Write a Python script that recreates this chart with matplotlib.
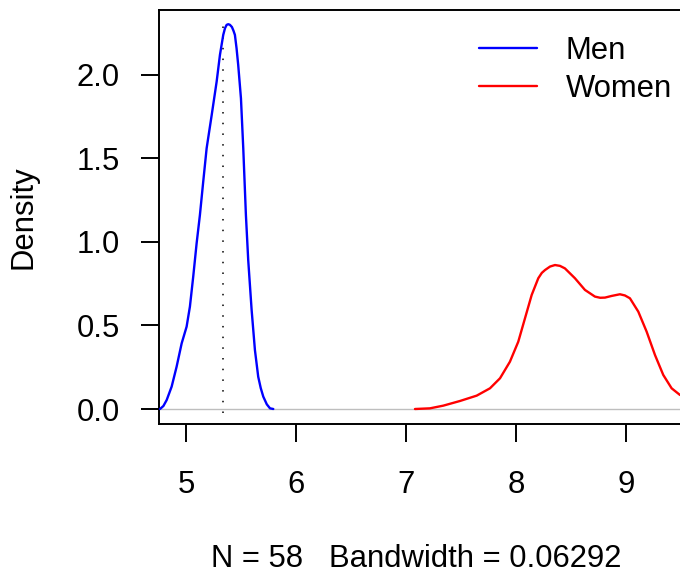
import numpy as np
import matplotlib.pyplot as plt

plt.rcParams['font.family'] = ['Liberation Sans', 'DejaVu Sans']

# density estimate for men
men_x = [4.764, 4.795, 4.825, 4.870, 4.915, 4.961, 5.006, 5.036, 5.066, 5.097,
         5.127, 5.157, 5.188, 5.234, 5.279, 5.309, 5.339, 5.355, 5.370, 5.385,
         5.400, 5.418, 5.432, 5.445, 5.460, 5.475, 5.500, 5.521, 5.545, 5.566,
         5.597, 5.627, 5.657, 5.680, 5.703, 5.735, 5.764, 5.794]
men_y = [0.000, 0.018, 0.054, 0.134, 0.253, 0.393, 0.493, 0.613, 0.792, 0.992,
         1.162, 1.361, 1.561, 1.760, 1.960, 2.120, 2.240, 2.280, 2.300, 2.304,
         2.300, 2.287, 2.265, 2.240, 2.160, 2.060, 1.860, 1.561, 1.162, 0.892,
         0.593, 0.353, 0.193, 0.125, 0.074, 0.028, 0.004, 0.000]

# density estimate for women
women_x = [7.082, 7.218, 7.339, 7.491, 7.643, 7.764, 7.855, 7.945, 8.021, 8.082,
           8.143, 8.203, 8.235, 8.264, 8.310, 8.355, 8.400, 8.445, 8.536, 8.627,
           8.718, 8.765, 8.809, 8.870, 8.945, 8.990, 9.036, 9.112, 9.188, 9.264,
           9.339, 9.415, 9.491]
women_y = [0.000, 0.004, 0.020, 0.048, 0.080, 0.124, 0.184, 0.283, 0.403, 0.543,
           0.683, 0.783, 0.815, 0.832, 0.853, 0.862, 0.857, 0.842, 0.783, 0.713,
           0.673, 0.666, 0.667, 0.677, 0.687, 0.680, 0.663, 0.583, 0.463, 0.323,
           0.204, 0.124, 0.084]

men_mean = 5.336
xticks = [5, 6, 7, 8, 9]
yticks = [0.0, 0.5, 1.0, 1.5, 2.0]

fig = plt.figure(figsize=(6.8, 5.76), dpi=100)
ax = fig.add_axes([159/680, 152/576, 541/680, 414/576])

ax.axhline(0, color='#bebebe', lw=1.0, zorder=1)
ax.plot(men_x, men_y, color='blue', lw=1.7, label='Men', zorder=3,
        solid_joinstyle='round', solid_capstyle='round')
ax.plot(women_x, women_y, color='red', lw=1.7, label='Women', zorder=3,
        solid_joinstyle='round', solid_capstyle='round')
ax.vlines(men_mean, -0.024, 2.341, colors='black', lw=1.1,
          linestyles=(0, (1, 6)), zorder=2)

ax.set_xlim(4.755, 9.673)
ax.set_ylim(-0.0898, 2.389)
ax.set_xticks(xticks)
ax.set_xticklabels([str(t) for t in xticks])
ax.set_yticks(yticks)
ax.set_yticklabels(['%.1f' % t for t in yticks])

for s in ax.spines.values():
    s.set_linewidth(1.4)
ax.tick_params(axis='both', direction='out', length=13, width=1.4, labelsize=22.3)
ax.tick_params(axis='x', pad=20)
ax.tick_params(axis='y', pad=15)

ax.set_ylabel('Density', fontsize=22.3)
ax.yaxis.set_label_coords(-0.222, 0.5)
ax.set_xlabel('N = 58   Bandwidth = 0.06292', fontsize=22.3)
ax.xaxis.set_label_coords(0.475, -0.29)

ax.legend(loc='upper left', bbox_to_anchor=(0.5915, 0.937), frameon=False,
          fontsize=22.3, handlelength=1.87, handletextpad=0.93,
          borderpad=0, borderaxespad=0, labelspacing=0.26)

fig.savefig('out.png', dpi=100)
